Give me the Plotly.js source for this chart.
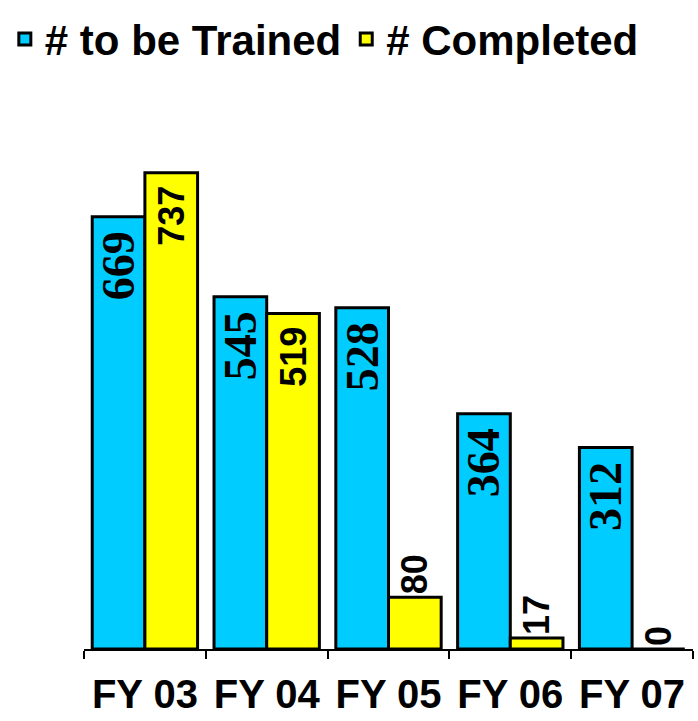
<!DOCTYPE html>
<html>
<head>
<meta charset="utf-8">
<script src="https://cdn.plot.ly/plotly-3.0.1.min.js"></script>
<style>html,body{margin:0;padding:0;background:#fff;}#chart{width:698px;height:721px;}</style>
</head>
<body>
<div id="chart"></div>
<script>
const categories = ["FY 03", "FY 04", "FY 05", "FY 06", "FY 07"];
const toBeTrained = [669, 545, 528, 364, 312];
const completed = [737, 519, 80, 17, 0];
const seriesNames = ["# to be Trained", "# Completed"];

const NBSP = "\u00a0";

const traceTrained = {
  type: "bar",
  name: seriesNames[0],
  x: categories,
  y: toBeTrained,
  text: toBeTrained.map(v => String(v) + NBSP),
  texttemplate: "%{text}",
  textposition: "inside",
  insidetextanchor: "end",
  textangle: -90,
  constraintext: "none",
  cliponaxis: false,
  textfont: {family: "Liberation Serif, Times New Roman, serif", size: 46, color: "#000", weight: "bold"},
  marker: {color: "#00CCFF", line: {color: "#000", width: 3}},
  hoverinfo: "none"
};

const traceCompleted = {
  type: "bar",
  name: seriesNames[1],
  x: categories,
  y: completed,
  text: completed.map(v => v > 200 ? String(v) + NBSP : String(v)),
  texttemplate: "%{text}",
  textposition: completed.map(v => v > 200 ? "inside" : "outside"),
  insidetextanchor: "end",
  textangle: -90,
  constraintext: "none",
  cliponaxis: false,
  textfont: {family: "Liberation Sans, Arial, sans-serif", size: 36, color: "#000", weight: "bold"},
  marker: {color: "#FFFF00", line: {color: "#000", width: 3}},
  hoverinfo: "none"
};

const layout = {
  width: 698,
  height: 721,
  margin: {l: 80, r: 5, t: 90, b: 72},
  paper_bgcolor: "#fff",
  plot_bgcolor: "#fff",
  barmode: "group",
  bargap: 0.135,
  bargroupgap: 0,
  showlegend: true,
  legend: {
    orientation: "h",
    x: -0.13, xanchor: "left",
    y: 1.175, yanchor: "top",
    font: {family: "Liberation Sans, Arial, sans-serif", size: 42, color: "#000", weight: "bold"},
    traceorder: "normal",
    bgcolor: "rgba(0,0,0,0)"
  },
  xaxis: {
    type: "category",
    showline: true, linecolor: "#000", linewidth: 2,
    ticks: "outside", tickson: "boundaries", ticklen: 8, tickwidth: 2, tickcolor: "#000",
    ticklabelstandoff: 9,
    tickfont: {family: "Liberation Sans, Arial, sans-serif", size: 40, color: "#000", weight: "bold"},
    showgrid: false, zeroline: false, fixedrange: true
  },
  yaxis: {
    range: [0, 848],
    visible: false,
    showgrid: false, zeroline: false, fixedrange: true
  }
};

Plotly.newPlot("chart", [traceTrained, traceCompleted], layout, {displayModeBar: false, staticPlot: true});
</script>
</body>
</html>
